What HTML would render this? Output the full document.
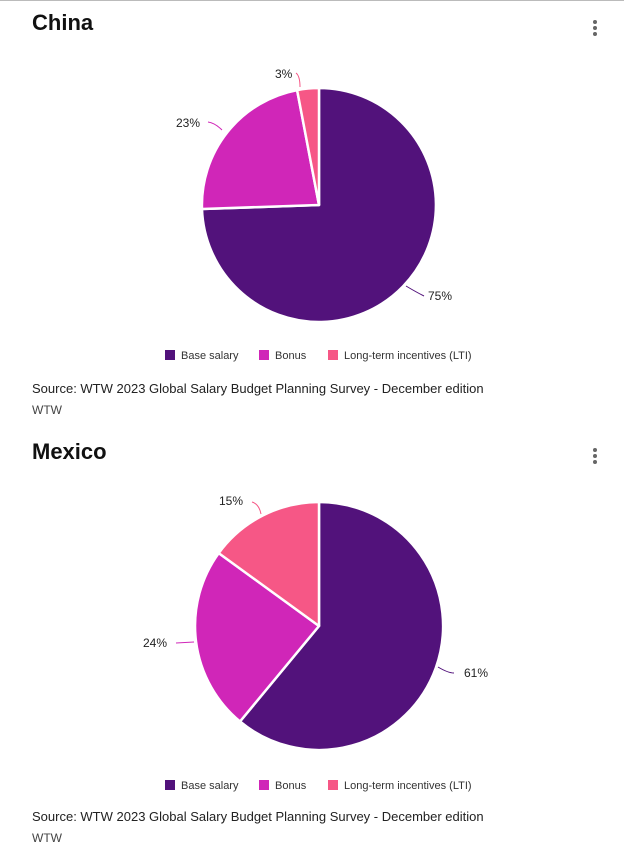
<!DOCTYPE html>
<html><head><meta charset="utf-8">
<style>
html,body{margin:0;padding:0;background:#fff;}
body{width:624px;height:865px;position:relative;overflow:hidden;font-family:"Liberation Sans",sans-serif;color:#111;}
.t{position:absolute;left:32px;font-weight:bold;font-size:22px;}
.src{position:absolute;left:32px;font-size:13px;color:#222;}
.wtw{position:absolute;left:32px;font-size:12px;color:#444;}
</style></head><body>
<div style="position:absolute;left:0;top:0;width:624px;height:1px;background:#bbb"></div>
<div class="t" style="top:10px">China</div>
<div class="t" style="top:439px">Mexico</div>
<svg width="624" height="865" style="position:absolute;left:0;top:0" font-family="Liberation Sans, sans-serif">
<g fill="#666"><circle cx="595" cy="22" r="2"/><circle cx="595" cy="28" r="2"/><circle cx="595" cy="34" r="2"/>
<circle cx="595" cy="450" r="2"/><circle cx="595" cy="456" r="2"/><circle cx="595" cy="462" r="2"/></g>
<g stroke="#fff" stroke-width="2.5" stroke-linejoin="round">
<path d="M319,205 L319,88 A117,117 0 1,1 202,209 Z" fill="#52127b"/>
<path d="M319,205 L202,209 A117,117 0 0,1 297.1,90.1 Z" fill="#d026b8"/>
<path d="M319,205 L297.1,90.1 A117,117 0 0,1 319,88 Z" fill="#f65786"/>
<path d="M319,626 L319,502 A124,124 0 1,1 240,721.5 Z" fill="#52127b"/>
<path d="M319,626 L240,721.5 A124,124 0 0,1 218.7,553.1 Z" fill="#d026b8"/>
<path d="M319,626 L218.7,553.1 A124,124 0 0,1 319,502 Z" fill="#f65786"/>
</g>
<g fill="none" stroke-width="1">
<path d="M296,73 Q300,76 300,87" stroke="#f65786"/>
<path d="M208,122 Q215,123 222,130" stroke="#d026b8"/>
<path d="M406,286 Q416,292 424,296" stroke="#52127b"/>
<path d="M252,502 Q259,504 261,514" stroke="#f65786"/>
<path d="M176,643 L194,642" stroke="#d026b8"/>
<path d="M438,667 Q448,673 454,673" stroke="#52127b"/>
</g>
<g font-size="12" fill="#222">
<text x="275" y="78">3%</text>
<text x="176" y="127">23%</text>
<text x="428" y="300">75%</text>
<text x="219" y="505">15%</text>
<text x="143" y="647">24%</text>
<text x="464" y="677">61%</text>
</g>
<g font-size="11" fill="#333">
<rect x="165" y="350" width="10" height="10" fill="#52127b"/><text x="181" y="359">Base salary</text>
<rect x="259" y="350" width="10" height="10" fill="#d026b8"/><text x="275" y="359">Bonus</text>
<rect x="328" y="350" width="10" height="10" fill="#f65786"/><text x="344" y="359">Long-term incentives (LTI)</text>
<rect x="165" y="780" width="10" height="10" fill="#52127b"/><text x="181" y="789">Base salary</text>
<rect x="259" y="780" width="10" height="10" fill="#d026b8"/><text x="275" y="789">Bonus</text>
<rect x="328" y="780" width="10" height="10" fill="#f65786"/><text x="344" y="789">Long-term incentives (LTI)</text>
</g>
</svg>
<div class="src" style="top:381px">Source: WTW 2023 Global Salary Budget Planning Survey - December edition</div>
<div class="wtw" style="top:403px">WTW</div>
<div class="src" style="top:809px">Source: WTW 2023 Global Salary Budget Planning Survey - December edition</div>
<div class="wtw" style="top:831px">WTW</div>
</body></html>
